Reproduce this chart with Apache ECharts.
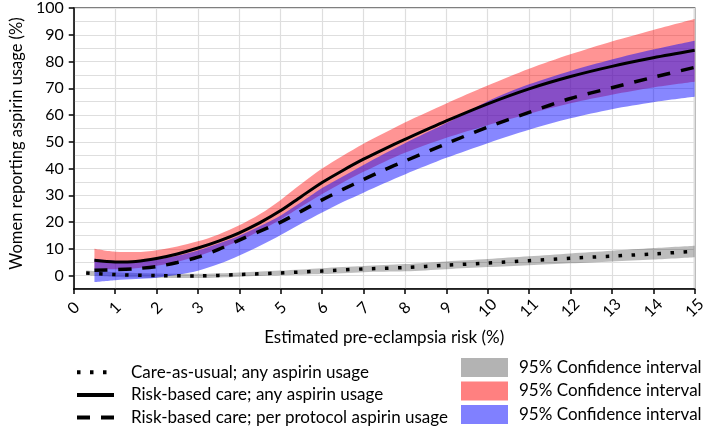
<!DOCTYPE html>
<html><head><meta charset="utf-8">
<script src="https://cdn.jsdelivr.net/npm/echarts@6/dist/echarts.min.js"></script>
<style>html,body{margin:0;padding:0;background:#fff}#c{width:709px;height:429px}</style>
</head><body><div id="c"></div>
<script>
// ---- data ----
const riskX = [0.5,1,1.5,2,2.5,3,3.5,4,4.5,5,5.5,6,6.5,7,7.5,8,9,10,11,12,13,14,15];
const anyUsage = [5.7,5.1,5.3,6.4,8.1,10.3,12.9,16.0,19.8,24.3,29.6,34.8,39.3,43.5,47.3,50.9,57.8,64.2,69.8,74.4,78.2,81.4,84.2];
const anyUpper = [10.0,8.9,8.8,9.5,10.9,12.8,15.4,18.8,23.0,28.3,34.3,40.0,44.8,49.3,53.3,57.2,64.3,71.0,77.3,82.7,87.5,91.8,95.9];
const anyLower = [2.6,2.4,2.8,3.7,5.2,7.3,9.9,13.0,16.8,21.0,25.8,30.5,34.8,38.8,42.5,45.9,51.5,56.2,60.5,64.4,67.6,70.3,72.4];
const protocolUsage = [2.0,2.2,2.6,3.4,4.9,6.9,9.8,13.3,16.6,20.0,24.1,28.3,32.2,35.9,39.5,42.8,49.3,55.5,61.0,66.2,70.2,74.1,77.8];
const protocolUpper = [6.3,5.5,5.4,6.0,7.4,9.4,12.0,14.9,18.5,22.5,27.5,32.7,37.0,41.3,45.5,49.5,57.0,65.2,71.5,76.5,80.8,84.5,87.8];
const protocolLower = [-2.4,-1.7,-1.3,-0.8,0.3,1.8,4.3,7.5,11.2,15.2,19.5,23.6,27.5,31.0,34.5,37.8,44.0,49.5,54.5,58.8,62.2,64.8,66.8];
const usualX = [0.3,1,2,3,4,5,6,7,8,9,10,11,12,13,14,15];
const usualUsage = [1.0,0.4,0.0,-0.1,0.4,1.0,1.7,2.5,3.0,3.9,4.7,5.6,6.5,7.3,8.1,9.1];
const usualUpper = [1.9,1.3,0.8,0.7,1.2,1.9,2.8,3.6,4.3,5.3,6.2,7.2,8.3,9.3,10.3,11.2];
const usualLower = [0.1,-0.5,-0.8,-0.9,-0.4,0.1,0.6,1.3,1.6,2.4,3.2,3.9,4.6,5.3,6.0,6.9];
const xTicks = [0,1,2,3,4,5,6,7,8,9,10,11,12,13,14,15];
const yTicks = [0,10,20,30,40,50,60,70,80,90,100];
const lineNames = ['Care-as-usual; any aspirin usage','Risk-based care; any aspirin usage','Risk-based care; per protocol aspirin usage'];
const ciLabel = '95% Confidence interval';
const xTitle = 'Estimated pre-eclampsia risk (%)';
const yTitle = 'Women reporting aspirin usage (%)';

// ---- helpers ----
// data rows are [y, x] so that the stacked dimension is the value (y) dimension
const rowsYX = (xs, ys) => xs.map((x,i)=>[ys[i], x]);
const diffsYX = (xs, lo, hi) => xs.map((x,i)=>[+(hi[i]-lo[i]).toFixed(2), x]);
const FONT = 'Lato';
const ENC = {x:1, y:0};

function band(id, xs, lo, hi, fill) {
  return [
    {name: id+'Low', type:'line', data: rowsYX(xs, lo), encode: ENC, stack: id, stackStrategy:'all',
     symbol:'none', lineStyle:{opacity:0, width:0}, silent:true, smooth:0.3, z:2},
    {name: id, type:'line', data: diffsYX(xs, lo, hi), encode: ENC, stack: id, stackStrategy:'all',
     symbol:'none', lineStyle:{opacity:0, width:0}, areaStyle:{color: fill, opacity:1},
     color: fill, silent:true, smooth:0.3, z:2}
  ];
}
function curve(name, xs, ys, lineStyle) {
  return {name, type:'line', data: rowsYX(xs, ys), encode: ENC, symbol:'none', smooth:0.3,
          lineStyle, color:'#000', z:2};
}

const chart = echarts.init(document.getElementById('c'), null, {renderer:'canvas'});
const series = [].concat(
  band('ciGray', usualX, usualLower, usualUpper, 'rgba(0,0,0,0.26)'),
  band('ciRed', riskX, anyLower, anyUpper, 'rgba(255,0,0,0.42)'),
  [curve(lineNames[1], riskX, anyUsage, {color:'#000', width:3})],
  [curve(lineNames[0], usualX, usualUsage, {color:'#000', width:3.5, type:[3.5,9.5], cap:'butt'})],
  band('ciBlue', riskX, protocolLower, protocolUpper, 'rgba(0,0,255,0.47)'),
  [curve(lineNames[2], riskX, protocolUsage, {color:'#000', width:3.5, type:[13,11], cap:'butt'})]
);

chart.setOption({
  animation:false,
  backgroundColor:'#fff',
  textStyle:{fontFamily:FONT},
  grid:{left:60, right:7, top:5.5, bottom:140, show:true, borderColor:'#555', borderWidth:1.5, backgroundColor:'transparent'},
  xAxis:{
    type:'value', min:0, max:15, interval:1,
    name:xTitle, nameLocation:'middle', nameGap:40,
    nameTextStyle:{fontFamily:FONT, fontSize:17, color:'#000'},
    axisLine:{show:true, onZero:false, lineStyle:{color:'#000', width:1.5}},
    axisTick:{show:true, length:5, lineStyle:{color:'#000', width:1.5}},
    axisLabel:{rotate:45, align:'center', verticalAlign:'middle', margin:19,
      fontFamily:FONT, fontSize:16, color:'#000',
      formatter: v => xTicks.includes(v) ? String(v) : ''},
    splitLine:{show:true, lineStyle:{color:'#dedede', width:1.2}}
  },
  yAxis:[{
    type:'value', min:-5, max:100, interval:5,
    name:yTitle, nameLocation:'middle', nameGap:38,
    nameTextStyle:{fontFamily:FONT, fontSize:16.5, color:'#000', padding:[0,0,0,10]},
    axisLine:{show:true, onZero:false, lineStyle:{color:'#000', width:1.5}},
    axisTick:{show:false},
    axisLabel:{margin:10, fontFamily:FONT, fontSize:16, color:'#000',
      formatter: v => yTicks.includes(v) ? String(v) : ''},
    splitLine:{show:true, lineStyle:{color:'#dedede', width:1.2}}
  },{
    type:'value', min:-5, max:100, position:'left',
    axisLine:{show:false}, axisLabel:{show:false}, splitLine:{show:false},
    axisTick:{show:true, length:5, customValues:yTicks, lineStyle:{color:'#000', width:1.5}}
  }],
  legend:[{
    data: lineNames, orient:'vertical', left:75, top:363.7, padding:0,
    itemWidth:37, itemHeight:14, itemGap:5.7, selectedMode:false,
    itemStyle:{opacity:0},
    lineStyle:{width:4},
    textStyle:{fontFamily:FONT, fontSize:17, lineHeight:16, color:'#000', padding:[0,0,0,12]}
  },{
    data:[{name:'ciGray', icon:'rect', itemStyle:{color:'#b3b3b3', borderWidth:0}},
          {name:'ciRed', icon:'rect', itemStyle:{color:'#ff8080', borderWidth:0}},
          {name:'ciBlue', icon:'rect', itemStyle:{color:'#8080ff', borderWidth:0}}],
    formatter: () => ciLabel,
    orient:'vertical', left:461, top:357, padding:0, itemWidth:47, itemHeight:19, itemGap:2.5, selectedMode:false,
    textStyle:{fontFamily:FONT, fontSize:17, lineHeight:16, color:'#000', padding:[5,0,0,6]}
  }],
  series: series
});
</script></body></html>
